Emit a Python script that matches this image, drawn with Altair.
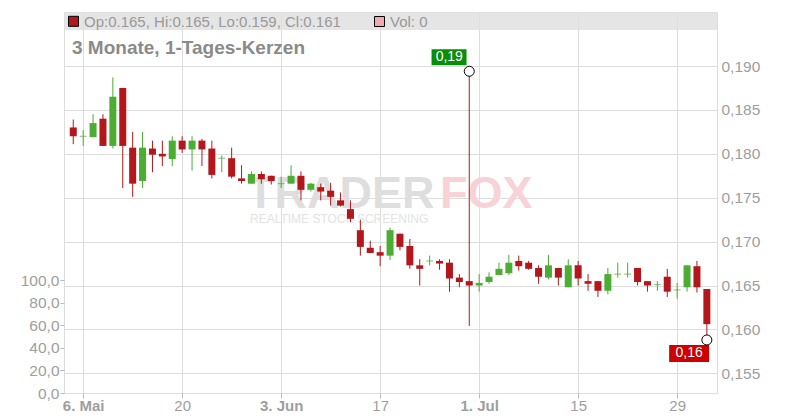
import altair as alt
import pandas as pd
import numpy as np

# ---------------- data ----------------
dates = pd.bdate_range("2024-05-03", "2024-08-01").strftime("%Y-%m-%d").tolist()

opens = [0.1830, 0.1820, 0.1819, 0.1840, 0.1809, 0.1875, 0.1807, 0.1769, 0.1806, 0.1800,
         0.1794, 0.1815, 0.1805, 0.1815, 0.1806, 0.1795, 0.1795, 0.1772, 0.1766, 0.1777,
         0.1775, 0.1766, 0.1766, 0.1775, 0.1759, 0.1762, 0.1758, 0.1747, 0.1737, 0.1713,
         0.1693, 0.1688, 0.1684, 0.1709, 0.1695, 0.1673, 0.1678, 0.1678, 0.1676, 0.1659,
         0.1655, 0.1650, 0.1654, 0.1662, 0.1664, 0.1678, 0.1676, 0.1670, 0.1659, 0.1670,
         0.1648, 0.1673, 0.1655, 0.1655, 0.1644, 0.1663, 0.1663, 0.1670, 0.1655, 0.1651,
         0.1660, 0.1645, 0.1648, 0.1672, 0.1646]
highs = [0.1839, 0.1827, 0.1845, 0.1845, 0.1887, 0.1875, 0.1825, 0.1825, 0.1815, 0.1815,
         0.1820, 0.1820, 0.1820, 0.1817, 0.1815, 0.1798, 0.1807, 0.1787, 0.1780, 0.1780,
         0.1775, 0.1774, 0.1787, 0.1780, 0.1767, 0.1766, 0.1767, 0.1756, 0.1747, 0.1725,
         0.1701, 0.1695, 0.1716, 0.1709, 0.1703, 0.1680, 0.1684, 0.1680, 0.1680, 0.1663,
         0.1894, 0.1663, 0.1665, 0.1676, 0.1685, 0.1684, 0.1678, 0.1673, 0.1685, 0.1670,
         0.1680, 0.1678, 0.1663, 0.1655, 0.1670, 0.1676, 0.1676, 0.1670, 0.1655, 0.1655,
         0.1669, 0.1653, 0.1673, 0.1678, 0.1646]
lows = [0.1811, 0.1809, 0.1819, 0.1809, 0.1806, 0.1761, 0.1751, 0.1761, 0.1779, 0.1786,
        0.1786, 0.1801, 0.1781, 0.1786, 0.1772, 0.1779, 0.1772, 0.1766, 0.1766, 0.1766,
        0.1765, 0.1761, 0.1766, 0.1747, 0.1757, 0.1747, 0.1741, 0.1740, 0.1722, 0.1684,
        0.1687, 0.1672, 0.1679, 0.1690, 0.1669, 0.1650, 0.1673, 0.1668, 0.1643, 0.1648,
        0.1604, 0.1643, 0.1652, 0.1662, 0.1662, 0.1667, 0.1668, 0.1652, 0.1657, 0.1650,
        0.1648, 0.1650, 0.1644, 0.1637, 0.1640, 0.1659, 0.1659, 0.1650, 0.1643, 0.1644,
        0.1637, 0.1635, 0.1643, 0.1642, 0.1588]
closes = [0.1820, 0.1820, 0.1835, 0.1809, 0.1865, 0.1809, 0.1766, 0.1807, 0.1799, 0.1797,
          0.1815, 0.1805, 0.1815, 0.1805, 0.1776, 0.1795, 0.1774, 0.1769, 0.1777, 0.1771,
          0.1769, 0.1766, 0.1775, 0.1759, 0.1766, 0.1757, 0.1751, 0.1741, 0.1726, 0.1694,
          0.1687, 0.1684, 0.1713, 0.1694, 0.1673, 0.1669, 0.1678, 0.1675, 0.1658, 0.1654,
          0.1650, 0.1653, 0.1660, 0.1669, 0.1676, 0.1672, 0.1669, 0.1660, 0.1673, 0.1659,
          0.1673, 0.1658, 0.1652, 0.1644, 0.1663, 0.1663, 0.1663, 0.1654, 0.1650, 0.1651,
          0.1643, 0.1645, 0.1673, 0.1648, 0.1606]
volumes = [0] * len(opens)

tick_idx = [1, 11, 21, 31, 41, 51, 61]
tick_labels = ["6. Mai", "20", "3. Jun", "17", "1. Jul", "15", "29"]
tick_bold = [1, 21, 41]
price_ticks = [0.155, 0.160, 0.165, 0.170, 0.175, 0.180, 0.185, 0.190]
vol_ticks = [0, 20, 40, 60, 80, 100]

title_text = "3 Monate, 1-Tages-Kerzen"

# ---------------- styling ----------------
RED = "#b3171b"
GREEN = "#4bad32"
PINK = "#f0a9b1"
FONT = "Liberation Sans"
LABEL_COLOR = "#9e9e9e"
GRID = "#dddddd"
W, H = 653, 381

df = pd.DataFrame({"i": np.arange(len(opens)), "date": dates, "open": opens,
                   "high": highs, "low": lows, "close": closes, "volume": volumes})
df["dir"] = np.where(df["close"] >= df["open"], "up", "down")

X_SCALE = alt.Scale(domain=[-0.43, 64.52], nice=False, zero=False)
P_SCALE = alt.Scale(domain=[0.15276, 0.19615], nice=False, zero=False)
V_SCALE = alt.Scale(domain=[0, 337.2], nice=False, zero=False)

label_js = "[" + ",".join("'%s'" % t for t in tick_labels) + "]"
idx_js = "[" + ",".join(str(t) for t in tick_idx) + "]"
bold_js = "[" + ",".join(str(t) for t in tick_bold) + "]"

X_AXIS = alt.Axis(values=tick_idx,
                  labelExpr=f"indexof({idx_js}, datum.value) >= 0 ? {label_js}[indexof({idx_js}, datum.value)] : ''",
                  grid=True, gridColor=GRID, domain=False, tickSize=5, tickColor="#bbbbbb",
                  labelFont=FONT, labelFontSize=15, labelColor=LABEL_COLOR,
                  labelBaseline="alphabetic", labelPadding=12,
                  labelFontWeight={"condition": {"test": f"indexof({bold_js}, datum.value) >= 0", "value": "bold"},
                                   "value": "normal"},
                  labelFlush=False, labelOverlap=False, title=None)
P_AXIS = alt.Axis(orient="right", values=price_ticks,
                  labelExpr="replace(format(datum.value, '.3f'), '.', ',')",
                  grid=True, gridColor=GRID, domain=False, ticks=False, labelPadding=4,
                  labelFont=FONT, labelFontSize=15.5, labelColor=LABEL_COLOR, title=None)
V_AXIS = alt.Axis(orient="left", values=vol_ticks,
                  labelExpr="replace(format(datum.value, '.1f'), '.', ',')",
                  grid=False, domain=False, tickSize=4, tickColor="#bbbbbb", labelPadding=1,
                  labelFont=FONT, labelFontSize=15.5, labelColor=LABEL_COLOR, title=None)

x_enc = alt.X("i:Q", scale=X_SCALE, axis=X_AXIS)
color_enc = alt.Color("dir:N", scale=alt.Scale(domain=["up", "down"], range=[GREEN, RED]), legend=None)

base = alt.Chart(df)

vol_layer = base.mark_bar(size=7, color=PINK).encode(
    x=x_enc, y=alt.Y("volume:Q", scale=V_SCALE, axis=V_AXIS))

one = pd.DataFrame({"k": [0]})
wm1 = alt.Chart(one).mark_text(text="TRADER", font=FONT, fontWeight="bold", fontSize=45,
                               color="#dedede", align="left", baseline="alphabetic").encode(
    x=alt.value(183), y=alt.value(196))
wm2 = alt.Chart(one).mark_text(text="FOX", font=FONT, fontWeight="bold", fontSize=45,
                               color="#f9d2d7", align="left", baseline="alphabetic").encode(
    x=alt.value(376), y=alt.value(196))
wm3 = alt.Chart(one).mark_text(text="REALTIME STOCK SCREENING", font=FONT, fontSize=12,
                               color="#e3e3e3", align="left", baseline="alphabetic").encode(
    x=alt.value(186), y=alt.value(211))

y_low = alt.Y("low:Q", scale=P_SCALE, axis=P_AXIS)
wick = base.mark_rule(strokeWidth=1).encode(x=x_enc, y=y_low, y2="high:Q", color=color_enc)
body = base.mark_bar(size=7).encode(
    x=x_enc, y=alt.Y("open:Q", scale=P_SCALE, axis=P_AXIS), y2="close:Q", color=color_enc)
doji = base.transform_filter("datum.open == datum.close").mark_tick(
    orient="horizontal", size=7, thickness=1).encode(
    x=x_enc, y=alt.Y("open:Q", scale=P_SCALE, axis=P_AXIS), color=color_enc)

hi_row = df.loc[df["high"].idxmax()]
lo_row = df.loc[df["low"].idxmin()]
hi_df = pd.DataFrame({"i": [int(hi_row["i"])], "p": [hi_row["high"]],
                      "label": [format(hi_row["high"], ".2f").replace(".", ",")]})
lo_df = pd.DataFrame({"i": [int(lo_row["i"])], "p": [lo_row["low"]],
                      "label": [format(lo_row["low"], ".2f").replace(".", ",")]})

y_p = alt.Y("p:Q", scale=P_SCALE, axis=P_AXIS)
hi_box = alt.Chart(hi_df).mark_rect(color="#0b8d0b", xOffset=-37.7, x2Offset=-2.7,
                                    yOffset=-22, y2Offset=-6).encode(x=x_enc, x2="i:Q", y=y_p, y2="p:Q")
hi_txt = alt.Chart(hi_df).mark_text(color="white", font=FONT, fontSize=14, dx=-20, dy=-14,
                                    baseline="middle").encode(x=x_enc, y=y_p, text="label:N")
lo_box = alt.Chart(lo_df).mark_rect(color="#cc0000", xOffset=-37.7, x2Offset=2.3,
                                    yOffset=5, y2Offset=22).encode(x=x_enc, x2="i:Q", y=y_p, y2="p:Q")
lo_txt = alt.Chart(lo_df).mark_text(color="white", font=FONT, fontSize=14, dx=-17.7, dy=13.5,
                                    baseline="middle").encode(x=x_enc, y=y_p, text="label:N")
circles = alt.Chart(pd.concat([hi_df, lo_df])).mark_point(
    shape="circle", size=100, filled=True, fill="white", stroke="black", strokeWidth=1, opacity=1).encode(
    x=x_enc, y=y_p)

hdr_text = "Op:%.3f, Hi:%.3f, Lo:%.3f, Cl:%.3f" % (opens[-1], highs[-1], lows[-1], closes[-1])
hdr_rect = alt.Chart(one).mark_rect(color="#e0e0e0", opacity=0.85).encode(
    x=alt.value(0), x2=alt.value(W), y=alt.value(0), y2=alt.value(18))
sq1 = alt.Chart(one).mark_square(size=100, color=RED, stroke="black", strokeWidth=1, opacity=1).encode(
    x=alt.value(9.5), y=alt.value(9.3))
t1 = alt.Chart(one).mark_text(text=hdr_text, font=FONT, fontSize=15, color="#999999",
                              align="left", baseline="alphabetic").encode(x=alt.value(20), y=alt.value(14.5))
sq2 = alt.Chart(one).mark_square(size=100, color=PINK, stroke="black", strokeWidth=1, opacity=1).encode(
    x=alt.value(315.5), y=alt.value(9.5))
t2 = alt.Chart(one).mark_text(text="Vol: %d" % volumes[-1], font=FONT, fontSize=15, color="#999999",
                              align="left", baseline="alphabetic").encode(x=alt.value(326), y=alt.value(14.5))
ttl = alt.Chart(one).mark_text(text=title_text, font=FONT, fontSize=19, fontWeight="bold",
                               color="#8a8a8a", align="left", baseline="alphabetic").encode(
    x=alt.value(8), y=alt.value(42))

price_layers = alt.layer(wm1, wm2, wm3, wick, body, doji, hi_box, lo_box, circles,
                         hi_txt, lo_txt, hdr_rect, sq1, t1, sq2, t2, ttl)

chart = alt.layer(vol_layer, price_layers).resolve_scale(y="independent").properties(
    width=W, height=H,
    autosize=alt.AutoSizeParams(type="none"),
    padding={"left": 56, "top": 4, "right": 75, "bottom": 19},
).configure_view(stroke="#c6c6c6").configure(background="white")

chart.save("out.html", embed_options={"renderer": "svg", "actions": False})
